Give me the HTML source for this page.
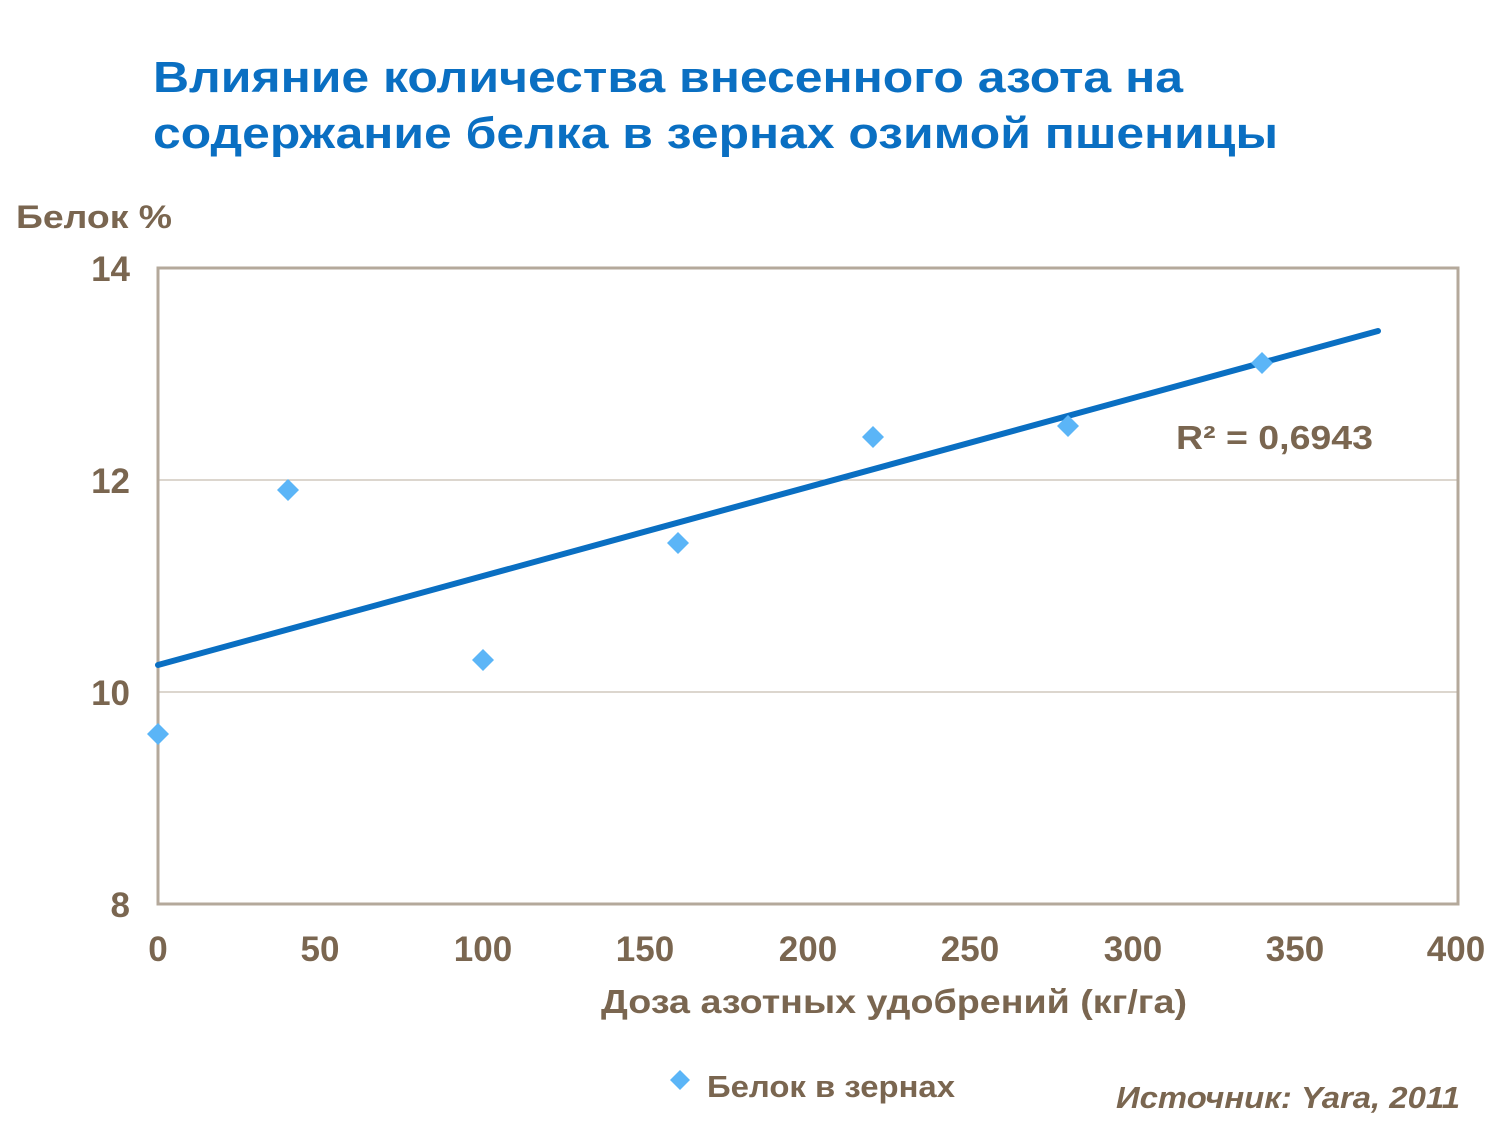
<!DOCTYPE html>
<html><head><meta charset="utf-8"><style>
html,body{margin:0;padding:0;background:#fff;}
body{width:1500px;height:1126px;overflow:hidden;}
</style></head><body>
<svg width="1500" height="1126" xmlns="http://www.w3.org/2000/svg" font-family="Liberation Sans, sans-serif" font-weight="bold">
<text x="153" y="92" font-size="44" fill="#0A6FC2" textLength="1030" lengthAdjust="spacingAndGlyphs">Влияние количества внесенного азота на</text>
<text x="153" y="148" font-size="44" fill="#0A6FC2" textLength="1125" lengthAdjust="spacingAndGlyphs">содержание белка в зернах озимой пшеницы</text>
<text x="16" y="228" font-size="32" fill="#7A6650" textLength="156" lengthAdjust="spacingAndGlyphs">Белок %</text>
<line x1="158" y1="480" x2="1458" y2="480" stroke="#B8AC9E" stroke-width="1"/>
<line x1="158" y1="692" x2="1458" y2="692" stroke="#B8AC9E" stroke-width="1"/>
<rect x="158" y="268" width="1300" height="636" fill="none" stroke="#B4A99B" stroke-width="3"/>
<g font-size="35" fill="#7A6650" text-anchor="end">
<text x="130" y="281">14</text><text x="130" y="493">12</text><text x="130" y="705">10</text><text x="130" y="917">8</text>
</g>
<g font-size="35" fill="#7A6650" text-anchor="middle">
<text x="158" y="961">0</text><text x="320" y="961">50</text><text x="483" y="961">100</text><text x="645" y="961">150</text><text x="808" y="961">200</text><text x="970" y="961">250</text><text x="1133" y="961">300</text><text x="1295" y="961">350</text><text x="1456" y="961">400</text>
</g>
<text x="601" y="1013" font-size="33" fill="#7A6650" textLength="586" lengthAdjust="spacingAndGlyphs">Доза азотных удобрений (кг/га)</text>
<line x1="158" y1="665" x2="1378" y2="331" stroke="#0A6FC2" stroke-width="6" stroke-linecap="round"/>
<g fill="#5BB5F7">
<path d="M158 723 l11 11 -11 11 -11 -11z"/>
<path d="M288 479 l11 11 -11 11 -11 -11z"/>
<path d="M483 649 l11 11 -11 11 -11 -11z"/>
<path d="M678 532 l11 11 -11 11 -11 -11z"/>
<path d="M873 426 l11 11 -11 11 -11 -11z"/>
<path d="M1068 415 l11 11 -11 11 -11 -11z"/>
<path d="M1262 352 l11 11 -11 11 -11 -11z"/>
<path d="M680 1070 l10 10 -10 10 -10 -10z"/>
</g>
<text x="1176" y="449" font-size="33" fill="#7A6650" textLength="197" lengthAdjust="spacingAndGlyphs">R² = 0,6943</text>
<text x="707" y="1097" font-size="31" fill="#7A6650" textLength="248" lengthAdjust="spacingAndGlyphs">Белок в зернах</text>
<text x="1116" y="1108" font-size="31" fill="#7A6650" font-style="italic" textLength="344" lengthAdjust="spacingAndGlyphs">Источник: Yara, 2011</text>
</svg>
</body></html>
